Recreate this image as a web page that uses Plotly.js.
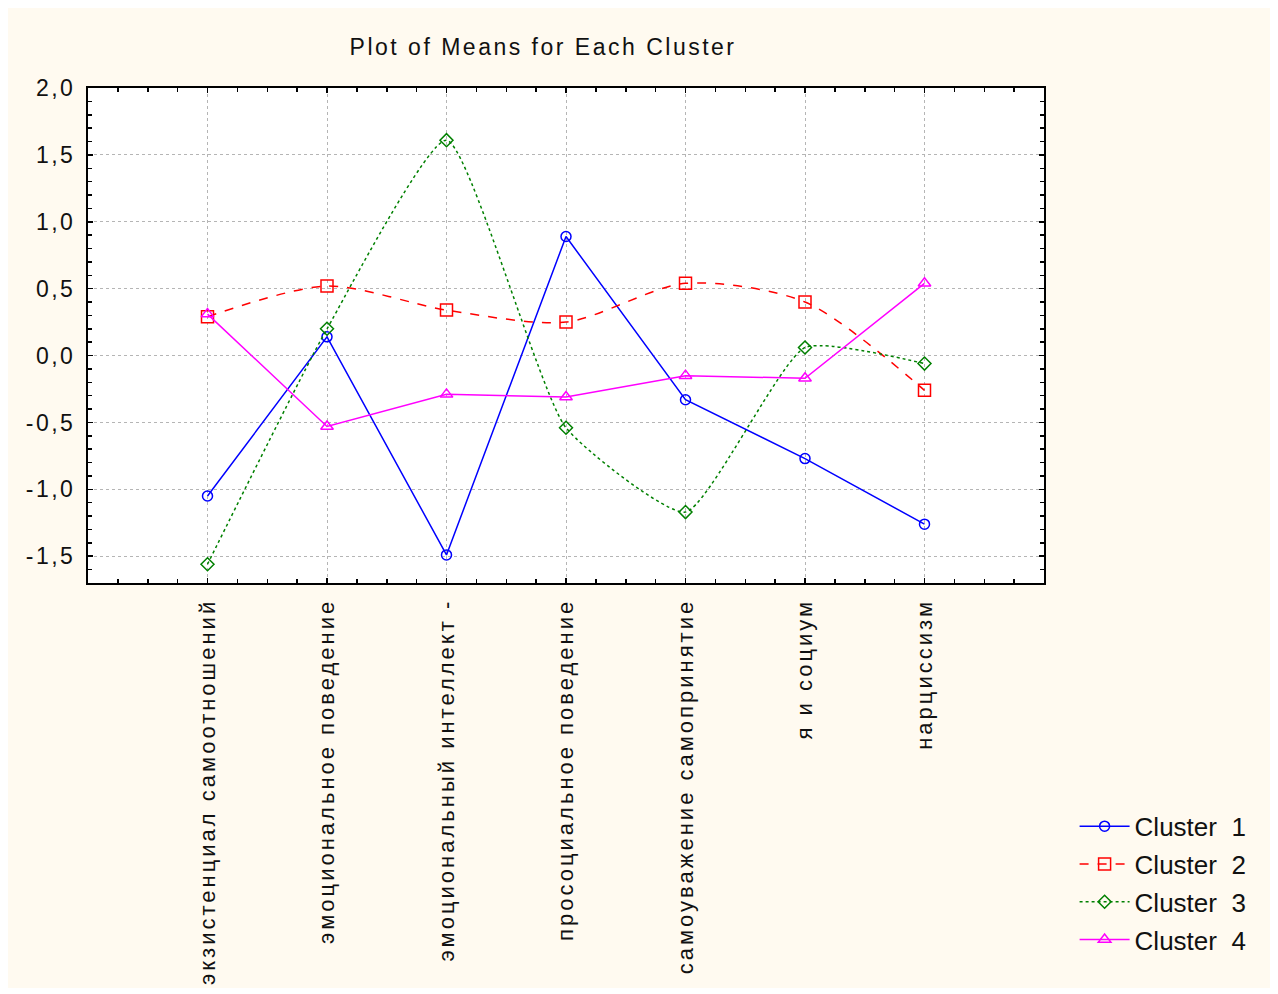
<!DOCTYPE html>
<html>
<head>
<meta charset="utf-8">
<script src="https://cdn.plot.ly/plotly-3.0.1.min.js"></script>
<style>
  html, body { margin: 0; padding: 0; background: #ffffff; }
  #chart { position: absolute; left: 8px; top: 8px; width: 1262px; height: 980px; }
  #chart .xtick text { letter-spacing: 3px; }
  #chart .ytick text { letter-spacing: 2.5px; }
  #chart .gtitle { letter-spacing: 2.5px; }
</style>
</head>
<body>
<div id="chart"></div>
<script>
const categories = [
  "экзистенциал самоотношений",
  "эмоциональное поведение",
  "эмоциональный интеллект -",
  "просоциальное поведение",
  "самоуважение самопринятие",
  "я и социум",
  "нарциссизм"
];
const seriesNames = ["Cluster\u00a0\u00a01", "Cluster\u00a0\u00a02", "Cluster\u00a0\u00a03", "Cluster\u00a0\u00a04"];
const cluster1 = [-1.05, 0.14, -1.49, 0.89, -0.33, -0.77, -1.26];
const cluster2 = [0.29, 0.52, 0.34, 0.25, 0.54, 0.40, -0.26];
const cluster3 = [-1.56, 0.20, 1.61, -0.54, -1.17, 0.06, -0.06];
const cluster4 = [0.31, -0.53, -0.29, -0.31, -0.15, -0.17, 0.54];
const yTickVals = [-1.5, -1.0, -0.5, 0.0, 0.5, 1.0, 1.5, 2.0];
const yTickText = ["-1,5", "-1,0", "-0,5", "0,0", "0,5", "1,0", "1,5", "2,0"];

const xIdx = categories.map((c, i) => i);

const traces = [
  { name: seriesNames[0], legendgroup: "g1", x: xIdx, y: cluster1, type: "scatter", mode: "lines+markers",
    line: { color: "#0000ff", width: 1.5 },
    marker: { symbol: "circle-open", size: 10, color: "#0000ff", line: { width: 1.5 } } },
  { name: seriesNames[1], legendgroup: "g2", x: xIdx, y: cluster2, type: "scatter", mode: "lines+markers",
    line: { color: "#ff0000", width: 1.5, dash: "dash", shape: "spline", smoothing: 0.8 },
    marker: { symbol: "square-open", size: 12, color: "#ff0000", line: { width: 1.5 } } },
  { name: seriesNames[2], legendgroup: "g3", x: xIdx, y: cluster3, type: "scatter", mode: "lines+markers",
    line: { color: "#008000", width: 1.5, dash: "dot", shape: "spline", smoothing: 0.5 },
    marker: { symbol: "diamond-open", size: 10, color: "#008000", line: { width: 1.5 } } },
  { name: seriesNames[3], legendgroup: "g4", x: xIdx, y: cluster4, type: "scatter", mode: "lines+markers",
    line: { color: "#ff00ff", width: 1.5 },
    marker: { symbol: "triangle-up-open", size: 11, color: "#ff00ff", line: { width: 1.5 } } }
];

const fontFam = "Liberation Sans, Arial, sans-serif";

const layout = {
  width: 1262, height: 980,
  paper_bgcolor: "#fffaf0",
  plot_bgcolor: "#ffffff",
  margin: { l: 80, r: 226, t: 80, b: 405 },
  font: { family: fontFam, color: "#111111", size: 22 },
  title: { text: "Plot of Means for Each Cluster", font: { family: fontFam, size: 23, color: "#111111" },
           xref: "paper", x: 0.476, xanchor: "center", yref: "container", y: 0.96, yanchor: "middle" },
  showlegend: true,
  legend: { x: 1.032, xanchor: "left", y: -0.444, yanchor: "top", bgcolor: "rgba(0,0,0,0)",
            font: { family: fontFam, size: 26, color: "#111111" },
            traceorder: "grouped", tracegroupgap: 1, itemwidth: 50 },
  xaxis: {
    type: "linear", range: [-1, 7], tickmode: "array", tickvals: xIdx, ticktext: categories,
    tickangle: -90, tickfont: { family: fontFam, size: 22, color: "#111111" }, ticklabelstandoff: 5,
    showline: true, linecolor: "#000000", linewidth: 2, mirror: "allticks",
    ticks: "inside", ticklen: 5, tickcolor: "#000000", tickwidth: 1.5,
    minor: { tickmode: "linear", tick0: 0, dtick: 0.25, ticks: "inside", ticklen: 4, tickcolor: "#000000", tickwidth: 1.5, showgrid: false },
    showgrid: true, gridcolor: "#b5b5b5", gridwidth: 1, griddash: "dot",
    zeroline: false, fixedrange: true
  },
  yaxis: {
    range: [-1.7, 2.0], tickmode: "array", tickvals: yTickVals, ticktext: yTickText,
    tickfont: { family: fontFam, size: 23, color: "#111111" }, ticklabelstandoff: 6,
    showline: true, linecolor: "#000000", linewidth: 2, mirror: "allticks",
    ticks: "inside", ticklen: 5, tickcolor: "#000000", tickwidth: 1.5,
    minor: { tickmode: "linear", tick0: 0, dtick: 0.1, ticks: "inside", ticklen: 4, tickcolor: "#000000", tickwidth: 1.5, showgrid: false },
    showgrid: true, gridcolor: "#b5b5b5", gridwidth: 1, griddash: "dot",
    zeroline: false, fixedrange: true
  }
};

Plotly.newPlot("chart", traces, layout, { displayModeBar: false, staticPlot: true });
</script>
</body>
</html>
